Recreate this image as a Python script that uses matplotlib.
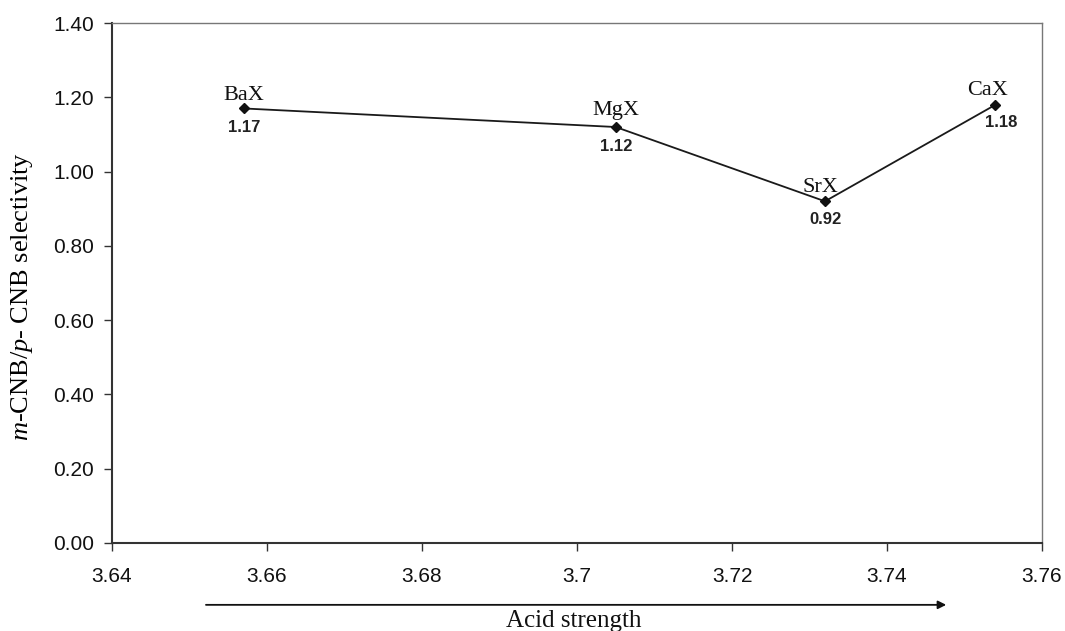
import matplotlib
matplotlib.use("Agg")
import matplotlib.pyplot as plt

# Catalyst series: acid strength vs. m-CNB/p-CNB selectivity
catalysts = ["BaX", "MgX", "SrX", "CaX"]
acid_strength = [3.657, 3.705, 3.732, 3.754]
selectivity = [1.17, 1.12, 0.92, 1.18]
value_labels = ["1.17", "1.12", "0.92", "1.18"]

x_ticks = [3.64, 3.66, 3.68, 3.70, 3.72, 3.74, 3.76]
x_tick_labels = ["3.64", "3.66", "3.68", "3.7", "3.72", "3.74", "3.76"]
y_ticks = [0.0, 0.2, 0.4, 0.6, 0.8, 1.0, 1.2, 1.4]
y_tick_labels = ["0.00", "0.20", "0.40", "0.60", "0.80", "1.00", "1.20", "1.40"]

plt.rcParams["mathtext.fontset"] = "custom"
plt.rcParams["mathtext.rm"] = "Liberation Serif"
plt.rcParams["mathtext.it"] = "Liberation Serif:italic"

fig = plt.figure(figsize=(10.65, 6.31), dpi=100)
ax = fig.add_axes([0.1052, 0.1395, 0.8732, 0.8240])

ax.plot(acid_strength, selectivity, color="#1a1a1a", lw=1.3,
        marker="D", markersize=5, markerfacecolor="#111111",
        markeredgecolor="#111111")

# name above each point, value below
name_offsets = [(0, 9), (0, 12), (-3, 10), (-6, 10)]
value_offsets = [(0, -14), (0, -14), (0, -13), (4, -13)]
for x, y, name, val, no, vo in zip(acid_strength, selectivity, catalysts,
                                    value_labels, name_offsets, value_offsets):
    ax.annotate(name, (x, y), xytext=no, textcoords="offset points",
                ha="center", va="center", fontsize=16,
                family="Liberation Serif", color="#111111")
    ax.annotate(val, (x, y), xytext=vo, textcoords="offset points",
                ha="center", va="center", fontsize=12, fontweight="bold",
                family="Liberation Sans", color="#222222")

ax.set_xlim(3.64, 3.76)
ax.set_ylim(0.0, 1.4)
ax.set_xticks(x_ticks)
ax.set_xticklabels(x_tick_labels, family="Liberation Sans", fontsize=15)
ax.set_yticks(y_ticks)
ax.set_yticklabels(y_tick_labels, family="Liberation Sans", fontsize=15)
ax.tick_params(axis="x", direction="out", length=6, width=1, pad=11,
               colors="#333333", labelcolor="#111111")
ax.tick_params(axis="y", direction="out", length=6, width=1, pad=7,
               colors="#333333", labelcolor="#111111")

for side in ["left", "bottom"]:
    ax.spines[side].set_linewidth(1.5)
    ax.spines[side].set_color("#333333")
for side in ["top", "right"]:
    ax.spines[side].set_linewidth(1.0)
    ax.spines[side].set_color("#777777")

ax.set_ylabel(r"$\it{m}$-CNB/$\it{p}$- CNB selectivity",
              family="Liberation Serif", fontsize=19)
ax.yaxis.set_label_coords(-0.083, 0.474)

# acid strength direction arrow beneath the axis
ax.annotate("", xy=(0.897, -0.119), xytext=(0.101, -0.119),
            xycoords="axes fraction", textcoords="axes fraction",
            arrowprops=dict(arrowstyle="-|>", color="#111111", lw=1.3,
                            mutation_scale=12, shrinkA=0, shrinkB=0))
ax.text(0.496, -0.150, "Acid strength", transform=ax.transAxes,
        ha="center", va="center", fontsize=18, family="Liberation Serif",
        color="#111111")

fig.savefig("out.png", dpi=100)
